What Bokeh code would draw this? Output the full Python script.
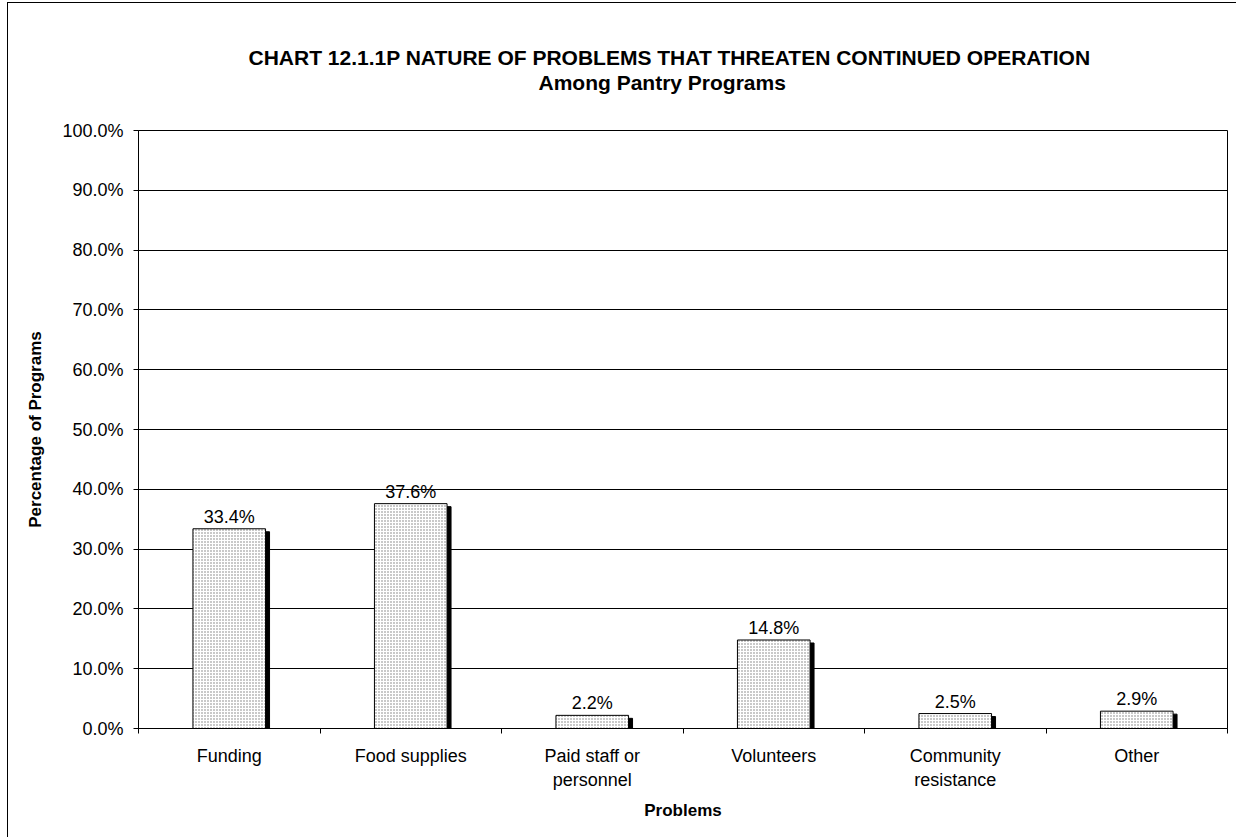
from bokeh.plotting import figure
from bokeh.models import FixedTicker, PrintfTickFormatter, Title, ColumnDataSource, Range1d
from bokeh.embed import file_html
from bokeh.resources import INLINE
from bokeh.core.properties import value

# ---- data ----
categories = ["Funding", "Food supplies", "Paid staff or\npersonnel", "Volunteers",
              "Community\nresistance", "Other"]
values = [33.4, 37.6, 2.2, 14.8, 2.5, 2.9]
y_ticks = [0, 10, 20, 30, 40, 50, 60, 70, 80, 90, 100]
title_line1 = "CHART 12.1.1P   NATURE OF PROBLEMS THAT THREATEN CONTINUED OPERATION"
title_line2 = "Among Pantry Programs"
x_label = "Problems"
y_label = "Percentage of Programs"

FONT = "Liberation Sans"

centers = [i + 0.5 for i in range(len(categories))]
labels = [f"{v:.1f}%" for v in values]

src = ColumnDataSource(dict(x=centers, top=values, label=labels,
                            sx=[c + 0.022 for c in centers],
                            stop=[max(v - 0.5, 0) for v in values]))

p = figure(width=1229, height=835, output_backend="svg", toolbar_location=None,
           x_range=Range1d(0, len(categories)), y_range=Range1d(0, 100),
           min_border_left=130, min_border_right=10, min_border_top=127, min_border_bottom=110,
           styles={"border-left": "1px solid black", "border-top": "1px solid black",
                   "margin-left": "7px", "margin-top": "2px"})

p.background_fill_color = "white"
p.border_fill_color = "white"
p.outline_line_color = "black"
p.outline_line_width = 1

# shadow bars
p.vbar(x="sx", top="stop", bottom=0, width=0.4, source=src,
       fill_color="black", line_color="black")
# main bars
p.vbar(x="x", top="top", bottom=0, width=0.4, source=src,
       fill_color="white", line_color="black", line_width=1,
       hatch_pattern="dot", hatch_scale=3, hatch_color="#777777", hatch_weight=1)

# value labels
p.text(x="x", y="top", text="label", source=src, text_align="center",
       text_baseline="alphabetic", y_offset=-12,
       text_font=value(FONT), text_font_size="18px", text_color="black")

# grid
p.xgrid.grid_line_color = None
p.ygrid.grid_line_color = "black"
p.ygrid.grid_line_width = 1
p.ygrid.ticker = FixedTicker(ticks=y_ticks)

# y axis
p.yaxis.ticker = FixedTicker(ticks=y_ticks)
p.yaxis.formatter = PrintfTickFormatter(format="%.1f%%")
p.yaxis.major_label_text_font = FONT
p.yaxis.major_label_text_font_size = "18px"
p.yaxis.major_label_text_color = "black"
p.yaxis.major_tick_out = 5
p.yaxis.major_tick_in = 0
p.yaxis.minor_tick_line_color = None
p.yaxis.axis_line_color = "black"
p.yaxis.major_tick_line_color = "black"
p.yaxis.major_label_standoff = 10
p.yaxis.axis_label = y_label
p.yaxis.axis_label_text_font = FONT
p.yaxis.axis_label_text_font_style = "bold"
p.yaxis.axis_label_text_font_size = "17px"
p.yaxis.axis_label_text_color = "black"
p.yaxis.axis_label_standoff = 14

# x axis
p.xaxis.ticker = FixedTicker(ticks=centers, minor_ticks=list(range(len(categories) + 1)))
p.xaxis.major_label_overrides = {c: lab for c, lab in zip(centers, categories)}
p.xaxis.major_tick_out = 0
p.xaxis.major_tick_in = 0
p.xaxis.minor_tick_out = 5
p.xaxis.minor_tick_in = 0
p.xaxis.minor_tick_line_color = "black"
p.xaxis.axis_line_color = "black"
p.xaxis.major_label_text_font = FONT
p.xaxis.major_label_text_font_size = "18px"
p.xaxis.major_label_text_color = "black"
p.xaxis.major_label_standoff = 12
p.xaxis.axis_label = x_label
p.xaxis.axis_label_text_font = FONT
p.xaxis.axis_label_text_font_style = "bold"
p.xaxis.axis_label_text_font_size = "17px"
p.xaxis.axis_label_text_color = "black"
p.xaxis.axis_label_standoff = 8

# titles: a blank white spacer nearest the plot, then line 2, then line 1
p.add_layout(Title(text="\u200b", align="left", standoff=34, text_font=FONT,
                   text_font_size="1px", text_color="white"), "above")
p.add_layout(Title(text=title_line2, align="left", offset=400, standoff=0,
                   text_font=FONT, text_font_style="bold", text_font_size="21px",
                   text_color="black"), "above")
p.add_layout(Title(text=title_line1, align="left", offset=110, standoff=0,
                   text_font=FONT, text_font_style="bold", text_font_size="21px",
                   text_color="black"), "above")

open("out.html", "w").write(file_html(p, INLINE))
